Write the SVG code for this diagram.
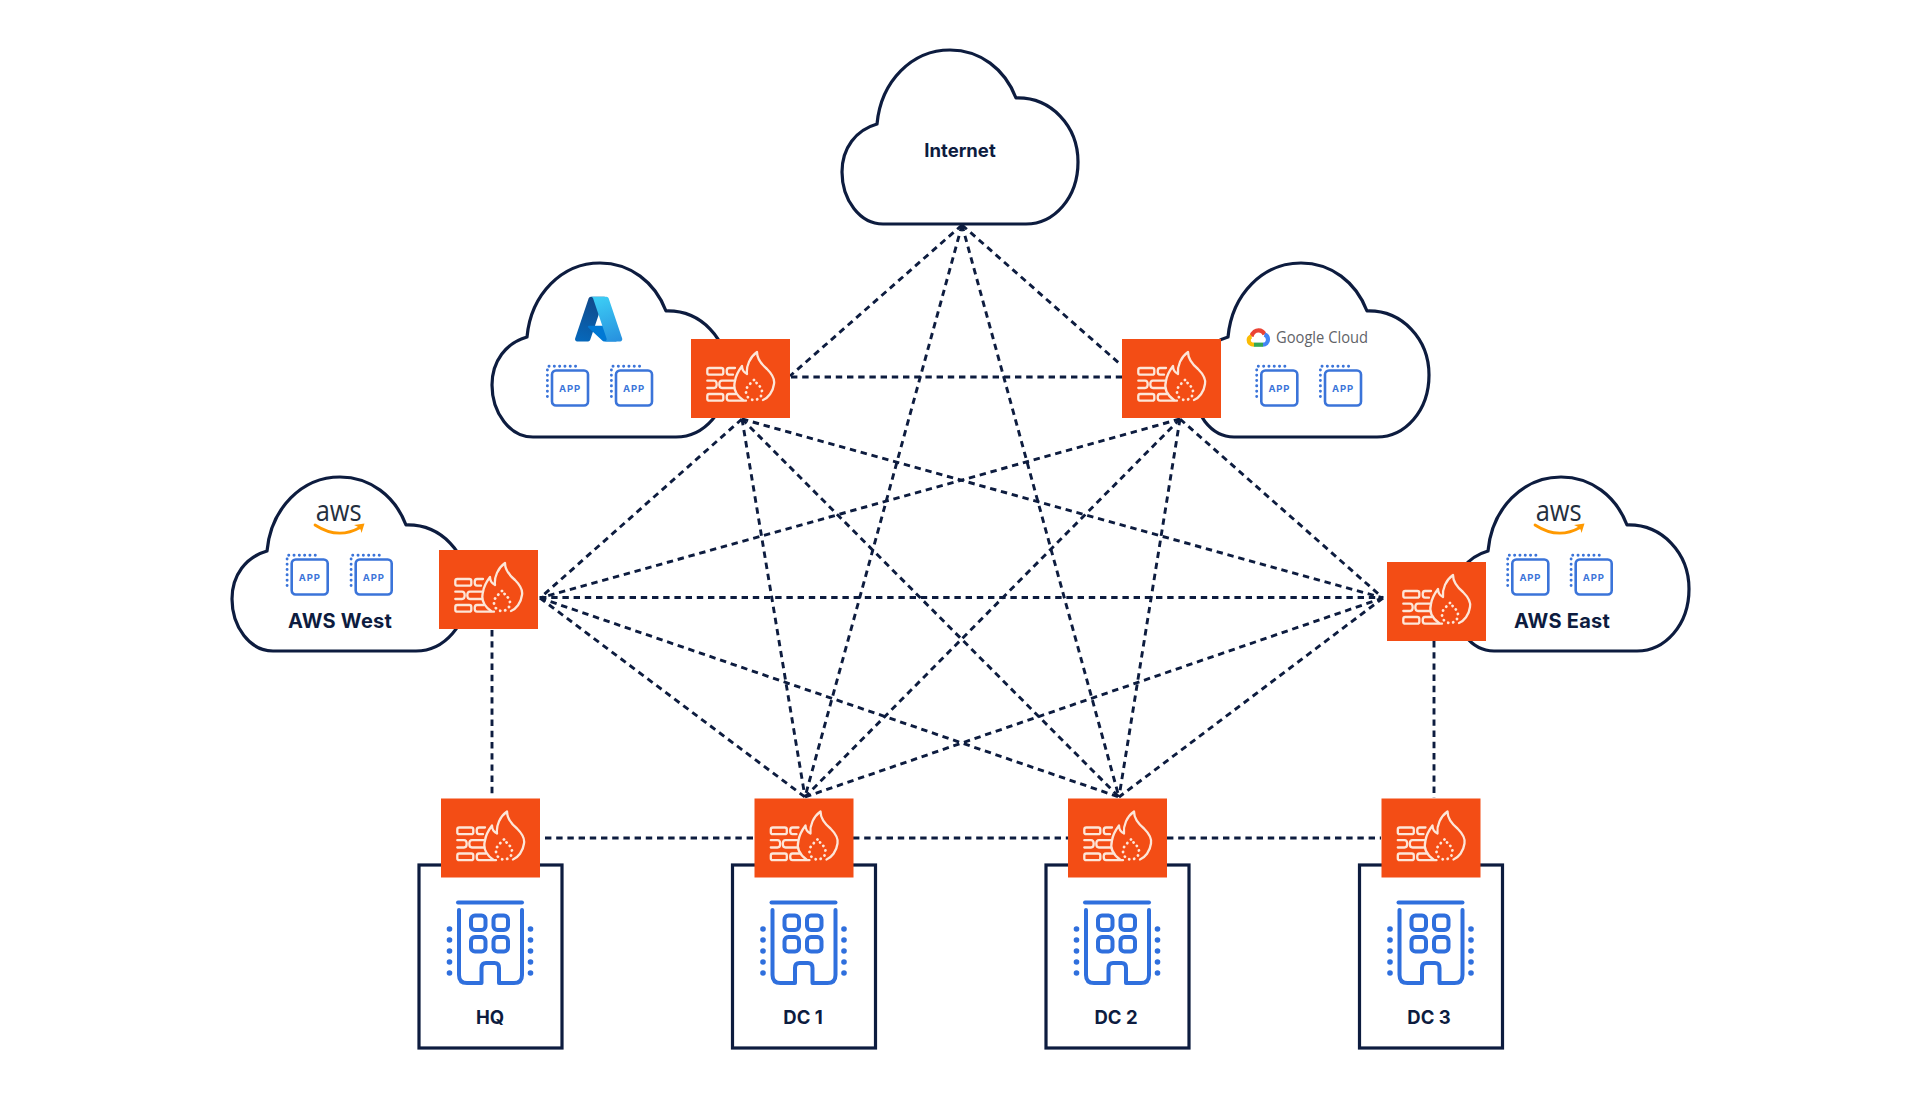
<svg xmlns="http://www.w3.org/2000/svg" xmlns:xlink="http://www.w3.org/1999/xlink" width="1920" height="1097" viewBox="0 0 1920 1097">
<style>
.cloud{fill:#fff;stroke:#0d1c3f;stroke-width:3.2;stroke-linejoin:round}
.fwbg{fill:#f34d15}
.fwi{fill:none;stroke:#fde6d8;stroke-width:2.3;stroke-linecap:round;stroke-linejoin:round}
.fwd{fill:none;stroke:#fde6d8;stroke-width:2.8;stroke-linecap:round;stroke-dasharray:0.1 5}
.link{stroke:#0d1c3f;stroke-width:2.9;stroke-dasharray:6.4 4.8;fill:none}
.site{fill:#fff;stroke:#0d1c3f;stroke-width:3.2}
.bl{fill:none;stroke:#2f6fdd;stroke-width:4;stroke-linecap:round;stroke-linejoin:round}
.bd{fill:#2f6fdd}
.lbl{font-family:"Inter","Liberation Sans",sans-serif;font-weight:700;font-size:18.5px;fill:#0d1c3f;text-anchor:middle}
.lbw{font-size:20px;letter-spacing:.25px}
.appb{fill:#fff;stroke:#3b74d9;stroke-width:2.6}
.appd{fill:none;stroke:#3b74d9;stroke-width:2.9;stroke-linecap:round;stroke-dasharray:0.1 5.2}
.appt{font-family:"Inter","Liberation Sans",sans-serif;font-weight:700;font-size:9.5px;letter-spacing:.8px;fill:#3b74d9;text-anchor:middle}
.aws{font-family:"Open Sans","Liberation Sans",sans-serif;font-size:30px;fill:#252f3e}
.smile{fill:none;stroke:#f90;stroke-width:2.8;stroke-linecap:round}
</style>
<defs>
<path id="cl" d="M35,74 C39,31 70,0 108,0 C138,0 163,19 174,48 C209,47 236,76 236,112 C236,148 212,174 184,174 L41,174 C18,174 0,150 0,122 C0,98 14,80 35,74 Z"/>
<g id="fw">
<rect class="fwbg" width="99" height="79"/>
<rect class="fwi" x="16.3" y="29" width="16" height="6.7" rx="2"/>
<path class="fwi" d="M44,29 H38 Q35.7,29 35.7,32.3 Q35.7,35.7 38,35.7 H42"/>
<path class="fwi" d="M16.3,41.7 H23 Q25.7,41.7 25.7,45.3 Q25.7,49 23,49 H16.3"/>
<path class="fwi" d="M43,41.7 H31 Q28.3,41.7 28.3,45.3 Q28.3,49 31,49 H43"/>
<rect class="fwi" x="16.3" y="55" width="16" height="6.7" rx="2"/>
<path class="fwi" d="M45,55 H38 Q35.7,55 35.7,58.3 Q35.7,61.7 38,61.7 H55"/>
<path class="fwi" d="M52,61 C45,56 42,49 44,42 C45,35 48,31 51,27 C51,30 52,33 56,35 C55,27 59,18 66,13 C66,20 70,25 76,30 C81,35 84,40 83,45 C82,53 77,59 72,61"/>
<path class="fwd" d="M63,41 C58,46 55,48 55,53 A8,8 0 0 0 71,53 C71,48 67,46 63,41 Z"/>
</g>
<g id="app">
<rect class="appb" width="36" height="35" rx="4"/>
<path class="appd" d="M-4.6,26 V-4.2 H27"/>
<text class="appt" x="18" y="21">APP</text>
</g>
<g id="bld">
<path class="bl" d="M39,37.4 H103"/>
<path class="bl" d="M40,45 V110 Q40,118 48,118 H62.5 V103 Q62.5,98 67,98 H75.5 Q80,98 80,103 V118 H95 Q103,118 103,110 V45"/>
<rect class="bl" x="52" y="50.5" width="14.5" height="14.5" rx="4"/>
<rect class="bl" x="74.5" y="50.5" width="14.5" height="14.5" rx="4"/>
<rect class="bl" x="52" y="72" width="14.5" height="14.5" rx="4"/>
<rect class="bl" x="74.5" y="72" width="14.5" height="14.5" rx="4"/>
<g class="bd"><circle cx="30.5" cy="64" r="2.8"/><circle cx="30.5" cy="75" r="2.8"/><circle cx="30.5" cy="86" r="2.8"/><circle cx="30.5" cy="97" r="2.8"/><circle cx="30.5" cy="108" r="2.8"/>
<circle cx="111.5" cy="64" r="2.8"/><circle cx="111.5" cy="75" r="2.8"/><circle cx="111.5" cy="86" r="2.8"/><circle cx="111.5" cy="97" r="2.8"/><circle cx="111.5" cy="108" r="2.8"/></g>
</g>
<g id="awslogo">
<text class="aws" x="315.7" y="521" textLength="46" lengthAdjust="spacingAndGlyphs">aws</text>
<path class="smile" d="M315,525 Q338,540 360,527.5"/>
<path d="M354,525 L364.5,523.5 L361.5,533 Q361.5,527.5 354,525 Z" fill="#f90"/>
</g>
<linearGradient id="az1" gradientUnits="userSpaceOnUse" x1="42.8" y1="12.7" x2="15.8" y2="92.5"><stop offset="0" stop-color="#114a8b"/><stop offset="1" stop-color="#0669bc"/></linearGradient>
<linearGradient id="az2" gradientUnits="userSpaceOnUse" x1="46.5" y1="11" x2="76" y2="90"><stop offset="0" stop-color="#3ccbf4"/><stop offset="1" stop-color="#2892df"/></linearGradient>
</defs>

<g id="connectors">
<path class="link" d="M962,225 L790,376"/>
<path class="link" d="M962,225 L1120,364"/>
<path class="link" d="M962,225 L805,797"/>
<path class="link" d="M962,225 L1119,797"/>
<path class="link" d="M791,377 L1122,377"/>
<path class="link" d="M742,419 L540,598"/>
<path class="link" d="M742,419 L1383,598"/>
<path class="link" d="M742,419 L805,797"/>
<path class="link" d="M742,419 L1119,797"/>
<path class="link" d="M1180,419 L540,598"/>
<path class="link" d="M1180,419 L1383,598"/>
<path class="link" d="M1180,419 L805,797"/>
<path class="link" d="M1180,419 L1119,797"/>
<path class="link" d="M540,597.5 L1383,597.5"/>
<path class="link" d="M540,598 L805,797"/>
<path class="link" d="M540,598 L1119,797"/>
<path class="link" d="M1383,598 L805,797"/>
<path class="link" d="M1383,598 L1119,797"/>
<path class="link" d="M492,630 L492,798"/>
<path class="link" d="M1434,641 L1434,798"/>
<path class="link" d="M545,838 L754,838"/>
<path class="link" d="M853,838 L1068,838"/>
<path class="link" d="M1167,838 L1381,838"/>
</g>

<g id="internet">
<use href="#cl" class="cloud" x="842" y="50"/>
<text class="lbl" x="960" y="157">Internet</text>
</g>

<g id="azure">
<use href="#cl" class="cloud" x="492" y="263"/>
<g transform="translate(572.85,293.3) scale(.5375)">
<path d="M33.338 6.544h26.038l-27.03 80.087a4.152 4.152 0 0 1-3.933 2.824H8.149a4.145 4.145 0 0 1-3.928-5.47L29.404 9.368a4.152 4.152 0 0 1 3.934-2.825z" fill="url(#az1)"/>
<path d="M71.175 60.261h-41.29a1.911 1.911 0 0 0-1.305 3.309l26.532 24.764a4.171 4.171 0 0 0 2.846 1.121h23.38z" fill="#0078d4"/>
<path d="M66.595 9.364a4.145 4.145 0 0 0-3.928-2.82H33.648a4.146 4.146 0 0 1 3.928 2.82l25.184 74.62a4.146 4.146 0 0 1-3.928 5.472h29.02a4.146 4.146 0 0 0 3.927-5.472z" fill="url(#az2)"/>
</g>
<use href="#app" x="552" y="370.5"/>
<use href="#app" x="616" y="370.5"/>
<use href="#fw" x="691" y="339"/>
</g>

<g id="google">
<use href="#cl" class="cloud" x="1193" y="263"/>
<g fill="none" stroke-width="4.2" transform="translate(1247,328.5)">
<path d="M4.5,8 C5.5,3.5 9,1.8 11.5,1.8 C14.2,1.8 16.5,3.4 17.5,6" stroke="#ea4335"/>
<path d="M17.5,6 C20.3,7 21,9.5 21,11 C21,14 18.5,16.2 16,16.2" stroke="#4285f4"/>
<path d="M16,16.2 H7" stroke="#34a853"/>
<path d="M7,16.2 C3.5,16.2 1.7,14 1.7,11.5 C1.7,9.5 2.8,8.4 4.5,8" stroke="#fbbc05"/>
</g>
<text x="1276" y="342.5" font-family="'Open Sans','Liberation Sans',sans-serif" font-size="16.5" fill="#5f6368" textLength="92" lengthAdjust="spacingAndGlyphs">Google Cloud</text>
<use href="#app" x="1261.3" y="370.5"/>
<use href="#app" x="1325" y="370.5"/>
<use href="#fw" x="1122" y="339"/>
</g>

<g id="aws-west">
<use href="#cl" class="cloud" x="232" y="477"/>
<use href="#awslogo"/>
<use href="#app" x="291.7" y="559.5"/>
<use href="#app" x="355.7" y="559.5"/>
<text class="lbl lbw" x="340" y="628">AWS West</text>
<use href="#fw" x="439" y="550"/>
</g>

<g id="aws-east">
<use href="#cl" class="cloud" x="1453" y="477"/>
<use href="#awslogo" x="1220"/>
<use href="#app" x="1512.3" y="559.5"/>
<use href="#app" x="1575.7" y="559.5"/>
<text class="lbl lbw" x="1562" y="628">AWS East</text>
<use href="#fw" x="1387" y="562"/>
</g>

<g id="hq">
<rect class="site" x="419" y="865" width="143" height="183"/>
<use href="#bld" x="419" y="865"/>
<text class="lbl" x="490" y="1024">HQ</text>
<use href="#fw" x="441" y="798.5"/>
</g>
<g id="dc1">
<rect class="site" x="732.5" y="865" width="143" height="183"/>
<use href="#bld" x="732.5" y="865"/>
<text class="lbl" x="803" y="1024">DC 1</text>
<use href="#fw" x="754.5" y="798.5"/>
</g>
<g id="dc2">
<rect class="site" x="1046" y="865" width="143" height="183"/>
<use href="#bld" x="1046" y="865"/>
<text class="lbl" x="1116" y="1024">DC 2</text>
<use href="#fw" x="1068" y="798.5"/>
</g>
<g id="dc3">
<rect class="site" x="1359.5" y="865" width="143" height="183"/>
<use href="#bld" x="1359.5" y="865"/>
<text class="lbl" x="1429" y="1024">DC 3</text>
<use href="#fw" x="1381.5" y="798.5"/>
</g>
</svg>
